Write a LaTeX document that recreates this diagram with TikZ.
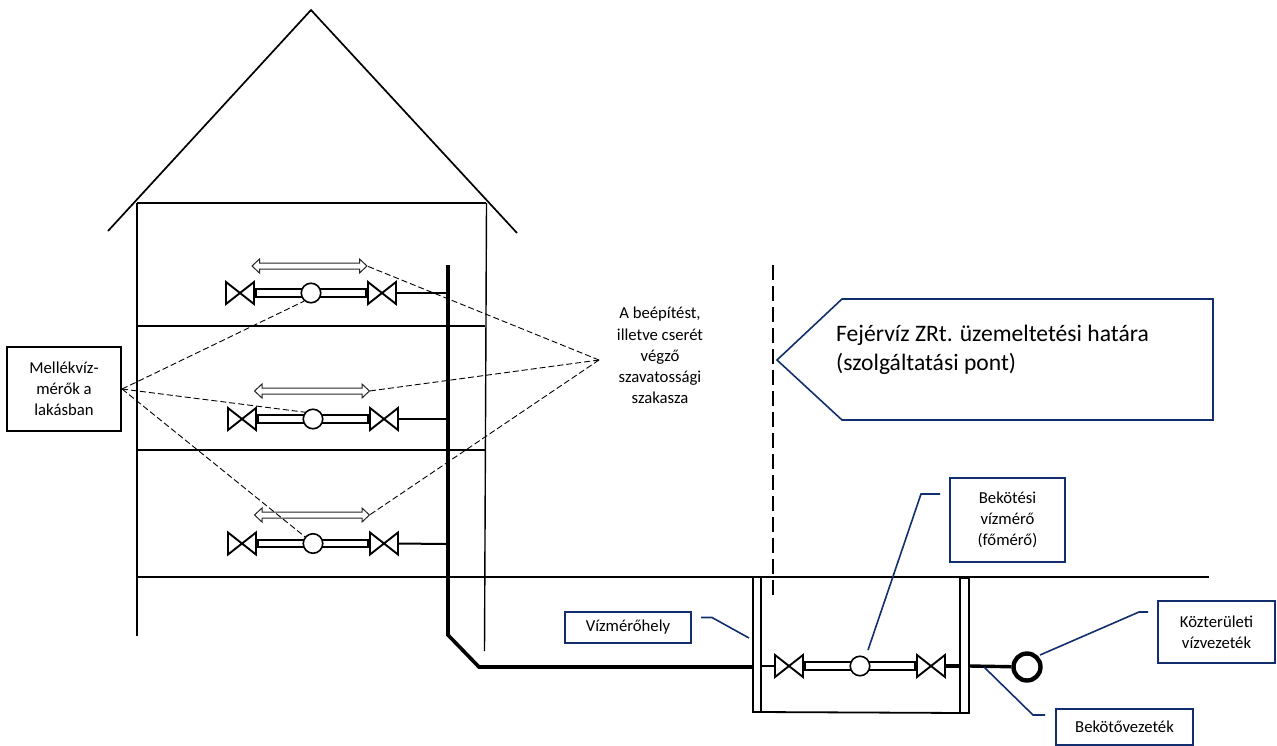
\documentclass[tikz,border=0pt]{standalone}
\usepackage{fontspec}
\setmainfont{Carlito}
\usetikzlibrary{positioning}

\definecolor{kek}{RGB}{18,46,110}

\tikzset{
	fal/.style={line width=1.7pt, black},
	cso/.style={line width=2pt, black},
	szelep/.style={line width=1.9pt, black, fill=white, line join=miter},
	mero/.style={circle, draw=black, line width=1.6pt, fill=white, minimum size=19.5pt, inner sep=0pt},
	nyil/.style={line width=1pt, black!85, fill=white},
	szagatott/.style={line width=0.9pt, black, dash pattern=on 6pt off 3pt},
	vezeto/.style={line width=1.6pt, kek},
	kekdoboz/.style={draw=kek, line width=2pt, font=\fontsize{16.7}{21}\selectfont, align=center, inner sep=0pt},
	feketedoboz/.style={draw=black, line width=2.2pt, font=\fontsize{16.7}{21}\selectfont, align=center, inner sep=0pt}
}

% #1 name, #2 x, #3 y of the meter
\newcommand{\vizmero}[3]{
	\begin{scope}[shift={(#2,#3)}]
		\draw[cso, fill=white] (-55,-3.8) rectangle (55,3.8);
		\node[mero] (#1) at (0,0) {};
		\draw[szelep] (-85,-11) -- (-57,11) -- (-57,-11) -- (-85,11) -- cycle;
		\draw[szelep] (57,-11) -- (85,11) -- (85,-11) -- (57,11) -- cycle;
		\coordinate (#1ki) at (85,0);
		\coordinate (#1be) at (-85,0);
	\end{scope}
}

% #1 name, #2 x, #3 y of the double arrow
\newcommand{\ketnyil}[3]{
	\draw[nyil, shift={(#2,#3)}] (-57.5,0) -- (-50,-7) -- (-50,-3) -- (50,-3) -- (50,-7) -- (57.5,0) -- (50,7) -- (50,3) -- (-50,3) -- (-50,7) -- cycle;
	\coordinate (#1) at (#2+57.5,#3);
}

\begin{document}
\begin{tikzpicture}[x=1pt, y=-1pt]
\useasboundingbox (0,0) rectangle (1277,745);

% Building
\draw[fal]	(108,231) -- (311,10) -- (517,233);
\draw[fal]	(137,203) -- (486,203);
\draw[fal]	(137,203) -- (137,636);
\draw[line width=1.4pt]	(486.5,203) -- (484.5,651);
\draw[fal]	(137,326) -- (485,326);
\draw[fal]	(137,450) -- (485,450);
\draw[fal]	(137,577) -- (1209,577);

% Meters in the flats
\vizmero{lakas1}{311}{293}
\vizmero{lakas2}{313}{419}
\vizmero{lakas3}{313}{543.5}
\ketnyil{nyil1}{309.5}{266}
\ketnyil{nyil2}{312}{391}
\ketnyil{nyil3}{312}{515}

% Pipes
\coordinate (felso)  at (448,265);
\coordinate (tores)  at (448,635);
\coordinate (also)   at (479,667);
\coordinate (akna)   at (753,667);
\draw[line width=3.6pt, line join=miter]	(felso) -- (tores) -- (also) -- (akna);
\draw[cso]	(lakas1ki) -- (446,293);
\draw[cso]	(lakas2ki) -- (446,419);
\draw[cso]	(lakas3ki) -- (446,544);

% Meter pit
\draw[line width=1.8pt]	(757,712) -- (965,713);
\node (bal)  [draw=black, line width=1.8pt, fill=white, minimum width=8.5pt, minimum height=135pt, inner sep=0pt] at (757,644.5) {};
\node (jobb) [draw=black, line width=1.8pt, fill=white, minimum width=8.5pt, minimum height=135pt, inner sep=0pt] at (964.5,645.5) {};
\vizmero{fomero}{860}{666}
\draw[line width=2.4pt]	(bal.east |- fomero) -- (fomerobe);
\draw[line width=3.4pt]	(fomeroki) -- (jobb.west |- fomero);

\node (vezetek) [circle, draw=black, line width=4.4pt, fill=white, minimum size=27pt, inner sep=0pt] at (1027,667) {};
\draw[line width=3.4pt]	(jobb.east |- fomero) -- (vezetek);

% Service boundary
\draw[line width=1.7pt, dash pattern=on 15pt off 6pt]	(773,265) -- (773,597);
\node (hatar) [inner sep=0pt] at (777,360) {};
\draw[vezeto]	(hatar.center) -- (842,299) -- (1213,299) -- (1213,420) -- (842,420) -- cycle;
\node (hatarszoveg) [anchor=west, align=left, font=\fontsize{23.6}{29}\selectfont, inner sep=0pt] at (836,349.5) {Fejérvíz ZRt. üzemeltetési határa\\(szolgáltatási pont)};

% Labels
\node (mellek)    [feketedoboz, minimum width=114pt, minimum height=84pt] at (64,389) {Mellékvíz-\\mérők a\\lakásban};
\node (szakasz)   [font=\fontsize{16.7}{21.2}\selectfont, align=center, inner sep=0pt] at (660,355.5) {A beépítést,\\illetve cserét\\végző\\szavatossági\\szakasza};
\node (bekotesi)  [kekdoboz, minimum width=115pt, minimum height=84pt] at (1007.5,520) {Bekötési\\vízmérő\\(főmérő)};
\node (vizmerohely) [kekdoboz, minimum width=126pt, minimum height=31pt] at (628,627.5) {\raisebox{-3pt}{Vízmérőhely}};
\node (kozterulet) [kekdoboz, minimum width=117pt, minimum height=62pt] at (1216.5,632) {Közterületi\\vízvezeték};
\node (bekoto)    [kekdoboz, minimum width=137pt, minimum height=36pt] at (1124.5,727) {Bekötővezeték};

% Dashed lines
\coordinate (szakaszpont) at (599,360);
\draw[szagatott]	(mellek.east) -- (lakas1.230);
\draw[szagatott]	(mellek.east) -- (lakas2.140);
\draw[szagatott]	(mellek.east) -- (lakas3.140);
\draw[szagatott]	(szakaszpont) -- (nyil1);
\draw[szagatott]	(szakaszpont) -- (nyil2);
\draw[szagatott]	(szakaszpont) -- (nyil3);

% Leader lines
\coordinate (fomerovege) at (868,650);
\coordinate (aknavege)   at (749,638);
\coordinate (vezetekvege) at (1040,655);
\coordinate (bekotovege) at (984,667);
\draw[vezeto]	(940,494) -- (921,494) -- (fomerovege);
\draw[vezeto]	(701,617.5) -- (712,617.5) -- (aknavege);
\draw[vezeto]	(1148,612) -- (1139,612) -- (vezetekvege);
\draw[vezeto]	(1045,715) -- (1033,715) -- (bekotovege);

\end{tikzpicture}
\end{document}
